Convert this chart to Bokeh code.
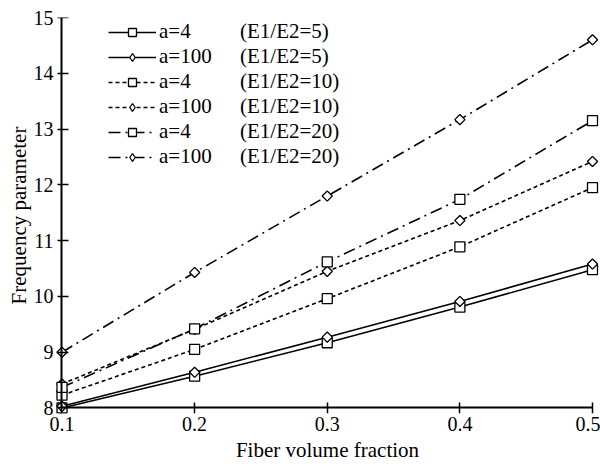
import math
from bokeh.plotting import figure
from bokeh.models import Range1d, FixedTicker, Legend, LegendItem, LinearAxis
from bokeh.embed import file_html
from bokeh.resources import INLINE

# ---- data ----
vf = [0.1, 0.2, 0.3, 0.4, 0.5]
e5_a4 = [8.00, 8.57, 9.17, 9.81, 10.48]
e5_a100 = [8.03, 8.64, 9.27, 9.91, 10.58]
e10_a4 = [8.23, 9.05, 9.96, 10.89, 11.95]
e10_a100 = [8.43, 9.41, 10.45, 11.36, 12.42]
e20_a4 = [8.37, 9.42, 10.62, 11.74, 13.15]
e20_a100 = [9.00, 10.43, 11.80, 13.17, 14.60]

a_labels = ["a=4", "a=100", "a=4", "a=100", "a=4", "a=100"]
ratio_labels = ["(E1/E2=5)", "(E1/E2=5)", "(E1/E2=10)", "(E1/E2=10)", "(E1/E2=20)", "(E1/E2=20)"]
x_ticks = [0.1, 0.2, 0.3, 0.4, 0.5]
y_ticks = [8, 9, 10, 11, 12, 13, 14, 15]

series_vals = [e5_a4, e5_a100, e10_a4, e10_a100, e20_a4, e20_a100]
dashes = ["solid", "solid", "4 3", "4 3", "12 5 2 5", "12 5 2 5"]
markers = ["sq", "di", "sq", "di", "sq", "di"]

FONT = "Liberation Serif"

p = figure(width=600, height=466, output_backend="svg", toolbar_location=None,
           x_range=Range1d(0.094345, 0.506032), y_range=Range1d(7.9014, 15.0),
           min_border_left=54, min_border_right=0, min_border_top=17, min_border_bottom=53)
p.outline_line_color = None
p.grid.visible = False
p.background_fill_color = "white"
p.border_fill_color = "white"

# standard axes: carry tick labels and titles only
xa = p.xaxis[0]
ya = p.yaxis[0]
xa.ticker = FixedTicker(ticks=x_ticks)
ya.ticker = FixedTicker(ticks=y_ticks)
for ax in (xa, ya):
    ax.axis_line_color = None
    ax.major_tick_line_color = None
    ax.minor_tick_line_color = None
    ax.major_tick_in = 0
    ax.major_tick_out = 0
    ax.major_label_text_font = FONT
    ax.major_label_text_font_size = "20px"
    ax.major_label_text_color = "black"
    ax.major_label_text_line_height = 1.0
    ax.axis_label_text_font = FONT
    ax.axis_label_text_font_size = "21px"
    ax.axis_label_text_font_style = "normal"
    ax.axis_label_text_color = "black"
    ax.axis_label_text_line_height = 1.0
xa.major_label_standoff = 3
ya.major_label_standoff = 1
xa.axis_label_standoff = 4
ya.axis_label_standoff = 0
xa.axis_label = "Fiber volume fraction"
ya.axis_label = "Frequency parameter"

# axis lines and ticks drawn at x=0.1 / y=8
xr = LinearAxis(fixed_location=8, bounds=(0.1, 0.5), ticker=FixedTicker(ticks=x_ticks),
                major_tick_in=5, major_tick_out=6)
yr = LinearAxis(fixed_location=0.1, bounds=(8, 15), ticker=FixedTicker(ticks=y_ticks),
                major_tick_in=7, major_tick_out=4)
for ax in (xr, yr):
    ax.axis_line_color = "black"
    ax.axis_line_width = 2
    ax.major_tick_line_color = "black"
    ax.major_tick_line_width = 1.5
    ax.minor_tick_line_color = None
    ax.major_label_text_color = None
p.add_layout(xr, "below")
p.add_layout(yr, "left")

items1 = []
items2 = []
for vals, dash, mk, al, rl in zip(series_vals, dashes, markers, a_labels, ratio_labels):
    ln = p.line(vf, vals, line_color="black", line_width=1.6, line_dash=dash)
    if mk == "sq":
        sc = p.scatter(vf, vals, marker="square", size=10,
                       line_color="black", line_width=1.3, fill_color="white")
        lg = sc
    else:
        # diamond glyph (used by the legend), covered by a rotated square in the plot
        lg = p.scatter(vf, vals, marker="diamond", size=9,
                       line_color="black", line_width=1.3, fill_color="white")
        sc = p.scatter(vf, vals, marker="square", size=7.2, angle=math.pi / 4,
                       line_color="black", line_width=1.3, fill_color="white")
    dummy = p.line([], [], line_alpha=0)
    items1.append(LegendItem(label=al, renderers=[ln, lg]))
    items2.append(LegendItem(label=rl, renderers=[dummy]))

common = dict(orientation="vertical", spacing=-5, padding=0, margin=0,
              border_line_alpha=0, background_fill_alpha=0,
              label_text_font=FONT, label_text_font_size="21px", label_text_color="black",
              label_height=20, glyph_height=20)
leg1 = Legend(items=items1, location=(54, 244), glyph_width=48, label_standoff=3, **common)
leg2 = Legend(items=items2, location=(186, 244), glyph_width=0, label_standoff=0, **common)
p.add_layout(leg1)
p.add_layout(leg2)

open("out.html", "w").write(file_html(p, INLINE))
